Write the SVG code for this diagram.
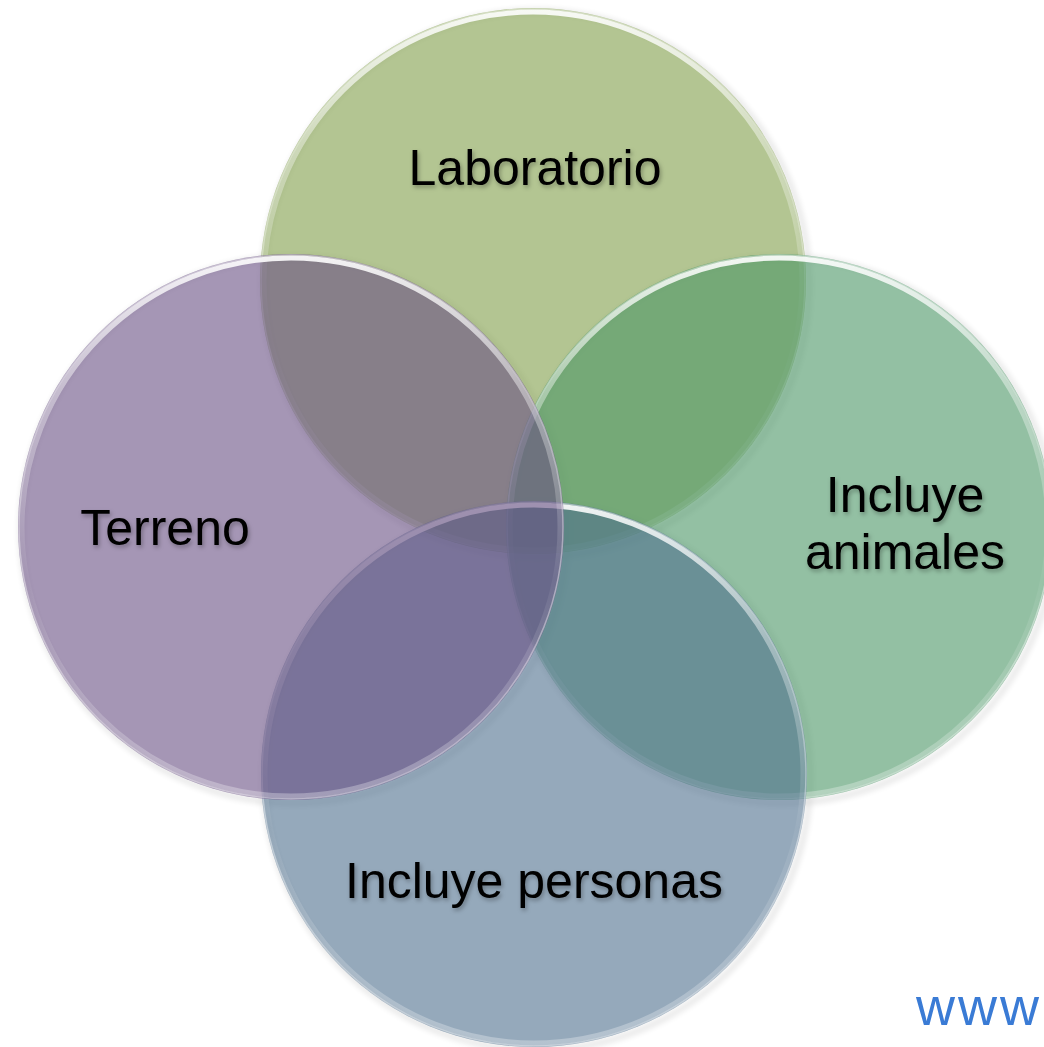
<svg xmlns="http://www.w3.org/2000/svg" width="1044" height="1047" viewBox="0 0 1044 1047">
  <defs>
    <style>
      .c { fill-opacity: 0.6; }
      .rim { fill: none; stroke: url(#rimGrad); stroke-width: 5; }
      .edge { fill: none; stroke: #ffffff; stroke-opacity: 0.45; stroke-width: 1.5; }
      .lbl { font-family: "Liberation Sans", Arial, sans-serif; font-size: 50px; fill: #000000; text-anchor: middle; filter: url(#tshadow); }
      .url { font-family: "Liberation Sans", Arial, sans-serif; font-size: 54px; fill: #3a7bd5; letter-spacing: 3px; }
    </style>
    <linearGradient id="rimGrad" x1="0" y1="0" x2="0" y2="1">
      <stop offset="0" stop-color="#ffffff" stop-opacity="0.9"/>
      <stop offset="0.25" stop-color="#ffffff" stop-opacity="0.4"/>
      <stop offset="0.6" stop-color="#ffffff" stop-opacity="0.05"/>
      <stop offset="1" stop-color="#ffffff" stop-opacity="0.3"/>
    </linearGradient>
    <filter id="tshadow" x="-10%" y="-20%" width="120%" height="150%">
      <feDropShadow dx="1.5" dy="2.5" stdDeviation="2" flood-color="#000000" flood-opacity="0.3"/>
    </filter>
    <filter id="cshadow" x="-10%" y="-10%" width="125%" height="125%">
      <feGaussianBlur stdDeviation="3"/>
    </filter>
  </defs>
  <rect width="1044" height="1047" fill="#ffffff"/>

  <g id="shadows" opacity="0.18" filter="url(#cshadow)">
    <circle cx="536" cy="284" r="273" fill="none" stroke="#000" stroke-width="3"/>
    <circle cx="782" cy="530" r="273" fill="none" stroke="#000" stroke-width="3"/>
    <circle cx="537" cy="777" r="273" fill="none" stroke="#000" stroke-width="3"/>
    <circle cx="294" cy="530" r="273" fill="none" stroke="#000" stroke-width="3"/>
  </g>

  <g id="node-laboratorio">
    <circle class="c" cx="533" cy="281" r="273" fill="#809e49"/>
    <circle class="rim" cx="533" cy="281" r="269"/>
    <circle class="edge" cx="533" cy="281" r="272"/>
  </g>
  <g id="node-animales">
    <circle class="c" cx="779" cy="527" r="273" fill="#4b9666"/>
    <circle class="rim" cx="779" cy="527" r="269"/>
    <circle class="edge" cx="779" cy="527" r="272"/>
  </g>
  <g id="node-personas">
    <circle class="c" cx="534" cy="774" r="273" fill="#4e708e"/>
    <circle class="rim" cx="534" cy="774" r="269"/>
    <circle class="edge" cx="534" cy="774" r="272"/>
  </g>
  <g id="node-terreno">
    <circle class="c" cx="291" cy="527" r="273" fill="#695084"/>
    <circle class="rim" cx="291" cy="527" r="269"/>
    <circle class="edge" cx="291" cy="527" r="272"/>
  </g>

  <g id="connectors"></g>

  <g id="labels">
    <text class="lbl" x="535" y="185">Laboratorio</text>
    <text class="lbl" x="165" y="545">Terreno</text>
    <text class="lbl" x="905" y="512">Incluye</text>
    <text class="lbl" x="905" y="569">animales</text>
    <text class="lbl" x="534" y="898">Incluye personas</text>
  </g>

  <text class="url" x="916" y="1025">www</text>
</svg>
